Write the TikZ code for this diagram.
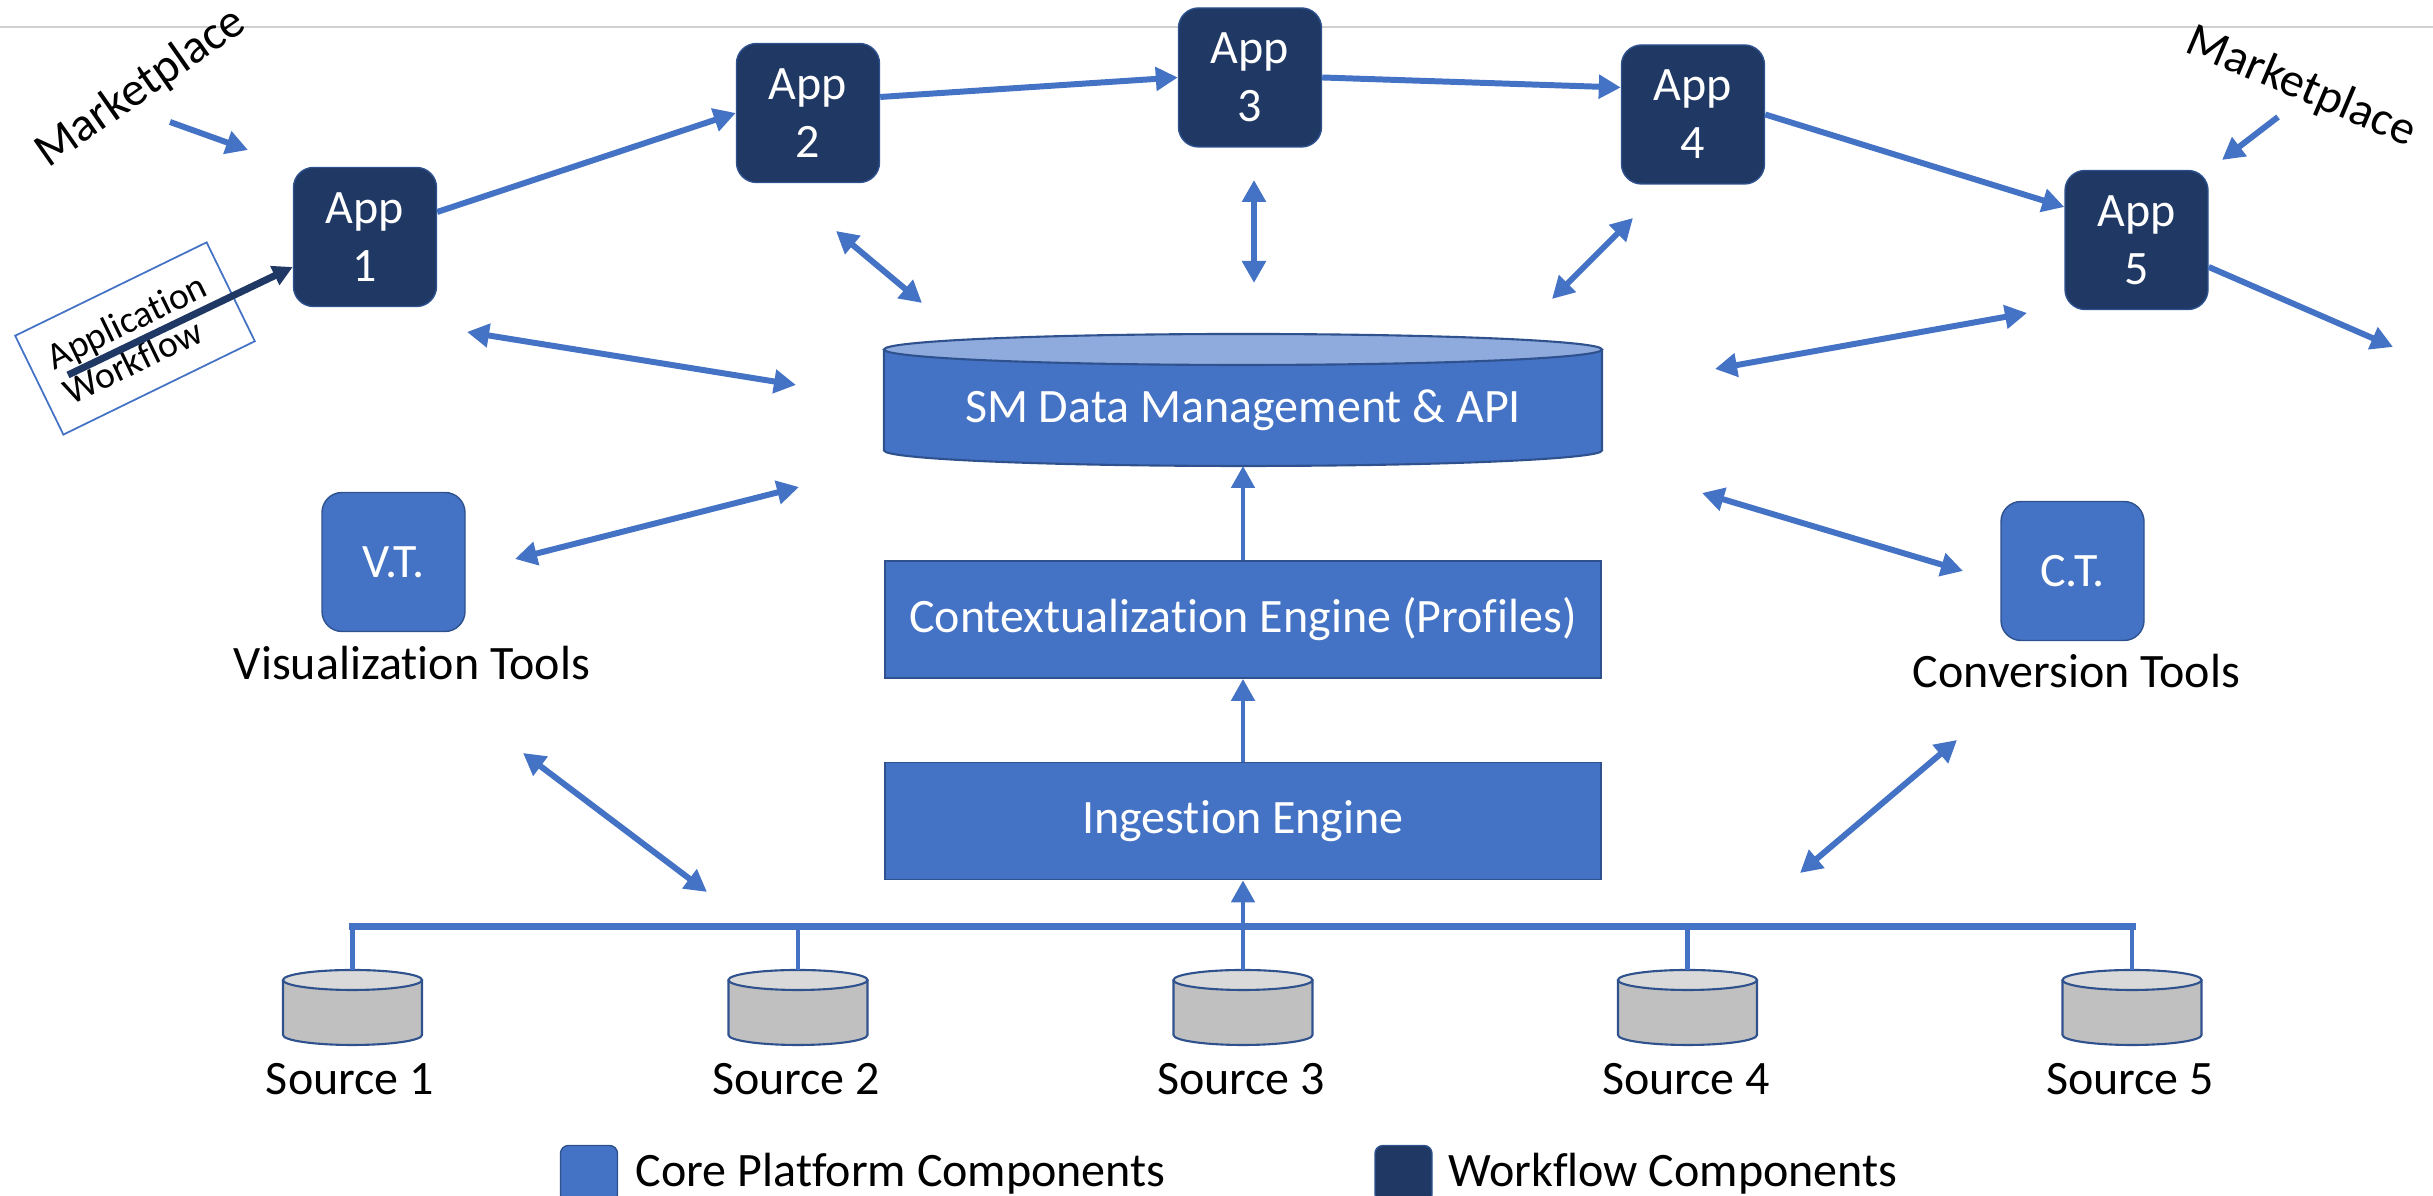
\documentclass[tikz,border=0pt]{standalone}
\usepackage{fontspec}
\setmainfont{Carlito}[Ligatures=CommonOff]
\usepackage{tikz}
\usetikzlibrary{arrows.meta,calc,positioning}

\definecolor{coreblue}{HTML}{4472C4}
\definecolor{navyblue}{HTML}{203864}
\definecolor{edgeblue}{HTML}{2F528F}
\definecolor{topblue}{HTML}{8FAADC}
\definecolor{srcgray}{HTML}{C0C0C0}
\definecolor{srctop}{HTML}{D9D9D9}
\definecolor{rulegray}{HTML}{D0D0D0}

\newcommand{\plotCylinder}[7]
{
	\node[minimum width=#3, minimum height=#4, inner sep=0pt, outer sep=0pt](#1) at (#2){};
	\draw[cylborder, fill=#6]([yshift=-#5]#1.north west) -- ([yshift=#5]#1.south west)
		arc[start angle=180, end angle=360, x radius=#3/2, y radius=#5]
		-- ([yshift=-#5]#1.north east);
	\draw[cylborder, fill=#7]([yshift=-#5]#1.north) ellipse[x radius=#3/2, y radius=#5];
}

\tikzset{
	appbox/.style={rectangle, rounded corners=0.2cm, fill=navyblue, draw=edgeblue, line width=0.4pt,
		minimum width=1.43cm, minimum height=1.39cm, align=center, text=white, inner sep=0pt},
	toolbox/.style={appbox, fill=coreblue},
	enginebox/.style={rectangle, fill=coreblue, draw=edgeblue, line width=0.5pt,
		minimum width=7.16cm, minimum height=1.17cm, text=white},
	cylborder/.style={draw=edgeblue, line width=0.6pt},
	flow/.style={->, draw=coreblue, line width=1.7pt},
	link/.style={<->, draw=coreblue, line width=1.7pt},
	feed/.style={->, draw=coreblue, line width=1.4pt},
	busline/.style={draw=coreblue, line width=2pt, line cap=rect},
	dropline/.style={draw=coreblue, line width=1.4pt},
	wfnote/.style={rectangle, draw=coreblue, line width=0.5pt, minimum width=2.13cm, minimum height=1.10cm,
		align=left, inner sep=0pt, font=\fontsize{10.7pt}{11.1pt}\selectfont},
	wfflow/.style={-{Triangle[length=0.2cm,width=0.2cm]}, draw=navyblue, line width=2pt},
	keybox/.style={rectangle, rounded corners=0.08cm, draw=edgeblue, line width=0.4pt, minimum size=0.57cm, inner sep=0pt},
	keytext/.style={inner sep=0pt}
}

\begin{document}
\begin{tikzpicture}[>={Triangle[length=0.22cm,width=0.23cm]}, font=\fontsize{13.66pt}{16.5pt}\selectfont]
\useasboundingbox (0,0) rectangle (24.33,11.96);
\clip (0,0) rectangle (24.33,11.96);

\draw[rulegray, line width=0.5pt] (0,11.69) -- (24.33,11.69);

\node[appbox](app1) at (3.65,9.59){App\\1};
\node[appbox](app2) at (8.08,10.83){App\\2};
\node[appbox](app3) at (12.50,11.185){App\\3};
\node[appbox](app4) at (16.93,10.815){App\\4};
\node[appbox](app5) at (21.365,9.56){App\\5};

\plotCylinder{sm}{12.43,7.96}{7.18cm}{1.32cm}{0.155cm}{coreblue}{topblue}
\node[text=white, anchor=base](smlabel) at (12.43,7.73){SM Data Management \& API};
\node[enginebox](ctx) at (12.43,5.765){Contextualization Engine (Profiles)};
\node[enginebox](ing) at (12.43,3.75){Ingestion Engine};

\node[toolbox](vt) at (3.935,6.34){V.T.};
\node[anchor=base](vtlabel) at (4.12,5.16){Visualization Tools};
\node[toolbox](ct) at (20.725,6.25){C.T.};
\node[anchor=base](ctlabel) at (20.765,5.08){Conversion Tools};

\plotCylinder{src1}{3.525,1.885}{1.39cm}{0.75cm}{0.10cm}{srcgray}{srctop}
\plotCylinder{src2}{7.98,1.885}{1.39cm}{0.75cm}{0.10cm}{srcgray}{srctop}
\plotCylinder{src3}{12.43,1.885}{1.39cm}{0.75cm}{0.10cm}{srcgray}{srctop}
\plotCylinder{src4}{16.875,1.885}{1.39cm}{0.75cm}{0.10cm}{srcgray}{srctop}
\plotCylinder{src5}{21.32,1.885}{1.39cm}{0.75cm}{0.10cm}{srcgray}{srctop}
\node[anchor=base](srclabel1) at (3.50,1.01){Source 1};
\node[anchor=base](srclabel2) at (7.96,1.01){Source 2};
\node[anchor=base](srclabel3) at (12.41,1.01){Source 3};
\node[anchor=base](srclabel4) at (16.86,1.01){Source 4};
\node[anchor=base](srclabel5) at (21.30,1.01){Source 5};

% bus to the sources
\coordinate (bus) at (12.43,2.69);
\draw[dropline](src1.north) -- (src1.north |- bus);
\draw[dropline](src2.north) -- (src2.north |- bus);
\draw[dropline](src4.north) -- (src4.north |- bus);
\draw[dropline](src5.north) -- (src5.north |- bus);
\draw[busline](src1.north |- bus) -- (src5.north |- bus);
\draw[feed](src3.north) -- (ing.south);
\draw[feed](ing.north) -- (ctx.south);
\draw[feed](ctx.north) -- (sm.south);

% application workflow
\draw[flow]([yshift= 0.25cm]app1.east) -- (app2.west);
\draw[flow]([yshift= 0.16cm]app2.east) -- (app3.west);
\draw[flow](app3.east) -- ([yshift= 0.27cm]app4.west);
\draw[flow](app4.east) -- ([yshift= 0.33cm]app5.west);
\coordinate (exit) at (23.93,8.49);
\draw[flow]([yshift=-0.27cm]app5.east) -- (exit);

\node[rotate=35](mktleft) at (1.41,11.08){Marketplace};
\node[rotate=-23](mktright) at (23.01,11.09){Marketplace};
\coordinate (mktlefta) at (1.70,10.74);
\coordinate (mktleftb) at (2.48,10.46);
\coordinate (mktrighta) at (22.78,10.79);
\coordinate (mktrightb) at (22.22,10.36);
\draw[flow](mktlefta) -- (mktleftb);
\draw[flow](mktrighta) -- (mktrightb);

\node[wfnote, rotate=26](wfbox) at (1.35,8.575){Application\\Workflow};
\coordinate (wfstart) at (0.68,8.21);
\draw[wfflow](wfstart) -- ([yshift=-0.30cm]app1.west);

% links to the data management
\coordinate (lapp1) at (4.67,8.64);   \coordinate (lsm1) at (7.96,8.11);
\coordinate (lapp2) at (8.36,9.65);   \coordinate (lsm2) at (9.22,8.93);
\coordinate (lapp3) at (12.54,10.16); \coordinate (lsm3) at (12.54,9.13);
\coordinate (lapp4) at (16.33,9.78);  \coordinate (lsm4) at (15.52,8.97);
\coordinate (lapp5) at (20.27,8.83);  \coordinate (lsm5) at (17.15,8.27);
\coordinate (lvt) at (5.15,6.37);     \coordinate (lsm6) at (7.99,7.09);
\coordinate (lvtb) at (5.23,4.43);    \coordinate (lbus1) at (7.07,3.04);
\coordinate (lct) at (19.63,6.25);    \coordinate (lsm7) at (17.02,7.03);
\coordinate (lctb) at (19.57,4.56);   \coordinate (lbus2) at (18.00,3.23);
\draw[link](lapp1) -- (lsm1);
\draw[link](lapp2) -- (lsm2);
\draw[link](lapp3) -- (lsm3);
\draw[link](lapp4) -- (lsm4);
\draw[link](lapp5) -- (lsm5);
\draw[link](lvt) -- (lsm6);
\draw[link](lvtb) -- (lbus1);
\draw[link](lct) -- (lsm7);
\draw[link](lctb) -- (lbus2);

\node[keybox, fill=coreblue](keycore) at (5.89,0.22){};
\node[keytext, right=0.17cm of keycore](keycoretext){Core Platform Components};
\node[keybox, fill=navyblue](keyflow) at (14.035,0.22){};
\node[keytext, right=0.15cm of keyflow](keyflowtext){Workflow Components};
\end{tikzpicture}
\end{document}
